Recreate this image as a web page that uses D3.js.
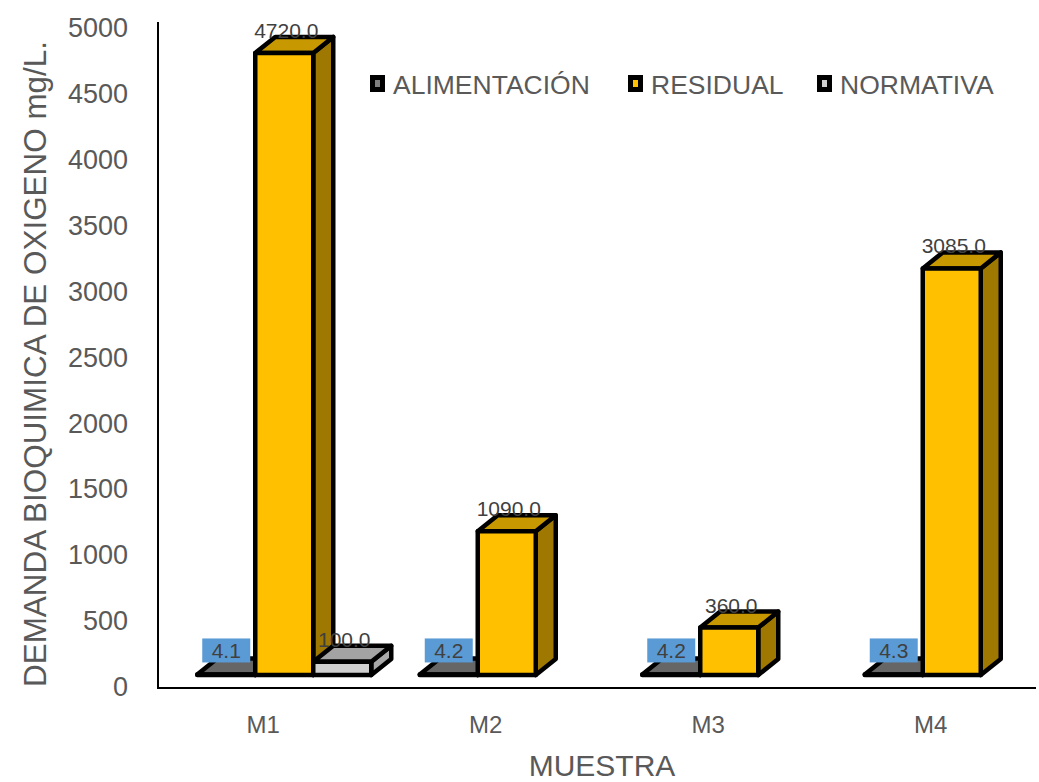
<!DOCTYPE html>
<html>
<head>
<meta charset="utf-8">
<script src="https://cdn.jsdelivr.net/npm/d3@7"></script>
<style>
  html, body { margin: 0; padding: 0; background: #fff; }
  svg { display: block; font-family: "Liberation Sans", Arial, sans-serif; }
</style>
</head>
<body>
<script>
// Sample categories and measured BOD values (mg/L)
const categories = ["M1", "M2", "M3", "M4"];
const seriesNames = ["ALIMENTACIÓN", "RESIDUAL", "NORMATIVA"];
const alimentacion = [4.1, 4.2, 4.2, 4.3];
const residual = [4720.0, 1090.0, 360.0, 3085.0];
const normativa = [100.0, null, null, null];
const yTicks = [0, 500, 1000, 1500, 2000, 2500, 3000, 3500, 4000, 4500, 5000];

const seriesValues = [alimentacion, residual, normativa];
const faceColors = [
  { front: "#7f7f7f", top: "#666666", side: "#5c5c5c", key: "#7f7f7f" },
  { front: "#ffc000", top: "#c79800", side: "#9e7800", key: "#ffc000" },
  { front: "#d0d0d0", top: "#a3a3a3", side: "#a8a8a8", key: "#d0d0d0" }
];

const W = 1039, H = 782;
const svg = d3.select("body").append("svg").attr("width", W).attr("height", H);

const y = d3.scaleLinear().domain([0, 5000]).range([687, 28]);
const x0 = d3.scaleBand().domain(categories).range([152, 1042]);
const x1 = d3.scaleBand().domain(seriesNames).range([-66, 108]);

// 3-D extrusion of each bar
const lift = 12, dx = 20, dy = 16;
const yBar = v => y(v) - lift;

// value axis
const yAxis = svg.append("g")
  .attr("transform", "translate(158,0)")
  .call(d3.axisLeft(y).tickValues(yTicks).tickSize(0).tickPadding(30).tickFormat(d3.format("d")));
yAxis.select(".domain").remove();
yAxis.selectAll("text")
  .attr("font-size", 27).attr("fill", "#595959")
  .attr("font-family", "'Liberation Sans', Arial, sans-serif");

// axis lines
svg.append("line").attr("x1", 158).attr("x2", 158).attr("y1", 22).attr("y2", 689)
  .attr("stroke", "#000").attr("stroke-width", 2);
svg.append("line").attr("x1", 157).attr("x2", 1036).attr("y1", 688).attr("y2", 688)
  .attr("stroke", "#000").attr("stroke-width", 2);

// category labels
svg.append("g").selectAll("text").data(categories).join("text")
  .attr("x", d => x0(d) + x0.bandwidth() / 2)
  .attr("y", 733)
  .attr("text-anchor", "middle")
  .attr("font-size", 24).attr("fill", "#595959")
  .text(d => d);

// axis titles
svg.append("text")
  .attr("x", 602).attr("y", 776)
  .attr("text-anchor", "middle")
  .attr("font-size", 30).attr("fill", "#595959")
  .text("MUESTRA");
svg.append("text")
  .attr("transform", "translate(46,364) rotate(-90)")
  .attr("text-anchor", "middle")
  .attr("font-size", 32).attr("fill", "#595959")
  .attr("textLength", 646).attr("lengthAdjust", "spacingAndGlyphs")
  .text("DEMANDA BIOQUIMICA DE OXIGENO mg/L.");

// bars
const bars = [];
categories.forEach((c, ci) => {
  seriesNames.forEach((s, si) => {
    const v = seriesValues[si][ci];
    if (v == null) return;
    const xl = x0(c) + x0.bandwidth() / 2 + x1(s);
    const xr = xl + x1.bandwidth();
    bars.push({ c, s, si, v, xl, xr, yt: yBar(v), yb: yBar(0) });
  });
});

const barG = svg.append("g")
  .attr("stroke", "#000").attr("stroke-width", 4.5).attr("stroke-linejoin", "round");
bars.forEach(b => {
  const g = barG.append("g");
  const col = faceColors[b.si];
  // right side
  g.append("polygon")
    .attr("points", [[b.xr, b.yb], [b.xr, b.yt], [b.xr + dx, b.yt - dy], [b.xr + dx, b.yb - dy]].join(" "))
    .attr("fill", col.side);
  // top
  g.append("polygon")
    .attr("points", [[b.xl, b.yt], [b.xl + dx, b.yt - dy], [b.xr + dx, b.yt - dy], [b.xr, b.yt]].join(" "))
    .attr("fill", col.top);
  // front
  g.append("rect")
    .attr("x", b.xl).attr("y", b.yt)
    .attr("width", b.xr - b.xl).attr("height", Math.max(0, b.yb - b.yt))
    .attr("fill", col.front);
});

// data labels
const fmt = d3.format(".1f");
const labelG = svg.append("g").attr("font-size", 21).attr("fill", "#404040");
bars.forEach(b => {
  const cx = (b.xl + b.xr) / 2;
  const backTop = b.yt - dy;
  if (b.si === 0) {
    labelG.append("rect")
      .attr("x", cx - 24).attr("y", backTop - 20)
      .attr("width", 48).attr("height", 24)
      .attr("fill", "#5b9bd5");
    labelG.append("text")
      .attr("x", cx).attr("y", backTop - 0.5)
      .attr("text-anchor", "middle")
      .text(fmt(b.v));
  } else {
    labelG.append("text")
      .attr("x", cx + 2).attr("y", backTop + 1)
      .attr("text-anchor", "middle")
      .text(fmt(b.v));
  }
});

// legend
const legendX = [370, 628, 817];
const legend = svg.append("g");
seriesNames.forEach((s, i) => {
  legend.append("rect")
    .attr("x", legendX[i] + 2.5).attr("y", 77.5)
    .attr("width", 10).attr("height", 12)
    .attr("fill", faceColors[i].key)
    .attr("stroke", "#000").attr("stroke-width", 5);
  legend.append("text")
    .attr("x", legendX[i] + 23).attr("y", 94)
    .attr("font-size", 26.5).attr("fill", "#595959")
    .text(s);
});
</script>
</body>
</html>
